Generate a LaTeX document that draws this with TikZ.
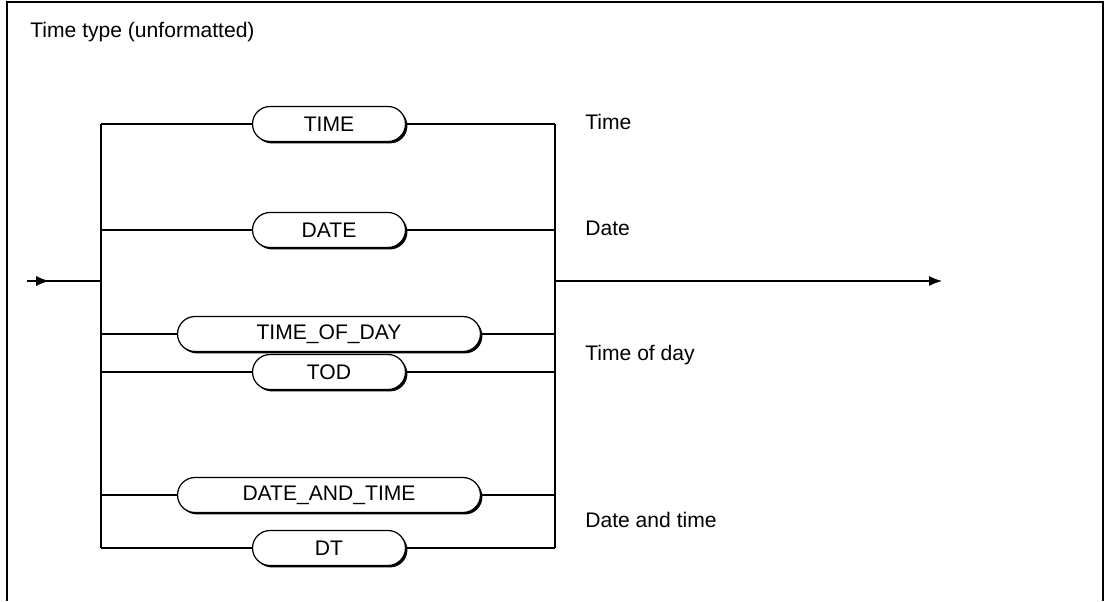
\documentclass[tikz,border=0pt]{standalone}
\usepackage{fontspec}
\setmainfont{Liberation Sans}
\usetikzlibrary{arrows.meta,positioning,calc,shapes.misc,shadows,decorations.markings}
\tikzset{
  kwbox/.style={rounded rectangle, draw, fill=white, line width=0.7pt,
                minimum height=0.7cm, minimum width=3.06cm, inner sep=0pt,
                font=\fontsize{12}{14}\selectfont,
                drop shadow={shadow xshift=1.1pt, shadow yshift=-1.1pt, opacity=1, fill=black}},
  kwlong/.style={kwbox, minimum width=6.06cm},
  txt/.style={anchor=west, inner sep=0pt, font=\fontsize{12}{14}\selectfont},
  wire/.style={line width=0.7pt},
  flowarr/.style={wire, -{Latex[length=2.6mm, width=2mm]}},
  midarr/.style={wire, postaction={decorate}, decoration={markings,
                 mark=at position #1 with {\arrow{Latex[length=2.6mm, width=2mm]}}}},
}
\begin{document}
\begin{tikzpicture}[x=0.02cm, y=-0.02cm]
  \useasboundingbox (0,0) rectangle (1104,601);
  % frame, open at the bottom
  \draw[line width=1pt] (7,601) -- (7,2) -- (1103,2) -- (1103,601);
  \node[txt] (title) at (30,32) {Time type (unformatted)};

  % bus lines and ends
  \coordinate (in) at (27,281);
  \coordinate (lbus) at (101,281);
  \coordinate (rbus) at (555,281);
  \coordinate (out) at (942,281);

  % keywords
  \node[kwbox]  (time) at (329,124) {TIME};
  \node[kwbox]  (date) at (329,230) {DATE};
  \node[kwlong] (tod1) at (329,334) {TIME\_OF\_DAY};
  \node[kwbox]  (tod2) at (329,372) {TOD};
  \node[kwlong] (dt1)  at (329,495) {DATE\_AND\_TIME};
  \node[kwbox]  (dt2)  at (329,548) {DT};

  % branches
  \foreach \n in {time,date,tod1,tod2,dt1,dt2}
    \draw[wire] (\n.west -| lbus) -- (\n.west) (\n.east) -- (\n.east -| rbus);
  \draw[wire] (time.west -| lbus) -- (dt2.west -| lbus);
  \draw[wire] (time.east -| rbus) -- (dt2.east -| rbus);
  \draw[midarr=0.3] (in) -- (lbus);
  \draw[flowarr] (rbus) -- (out);

  % meanings
  \node[txt] (ltime) at (585,122) {Time};
  \node[txt] (ldate) at (585,228) {Date};
  \node[txt] (ltod)  at (585,355) {Time of day};
  \node[txt] (ldt)   at (585,520) {Date and time};
\end{tikzpicture}
\end{document}
